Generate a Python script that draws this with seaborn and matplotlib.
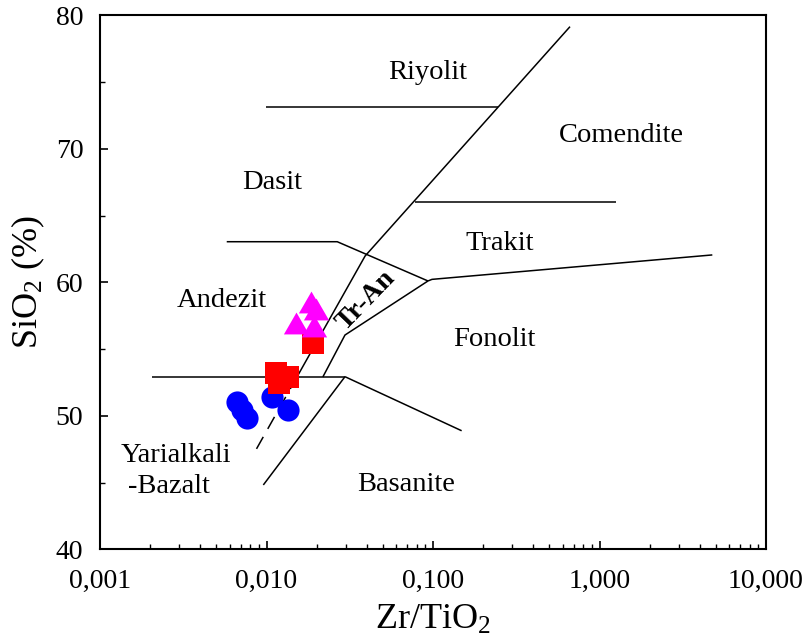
import numpy as np
import pandas as pd
import matplotlib
matplotlib.use("Agg")
import matplotlib.pyplot as plt
import seaborn as sns

# ---- sample data: Zr/TiO2 vs SiO2 (%) ----
circle_x = [0.00669, 0.00713, 0.00759, 0.01079, 0.01346]
circle_y = [51.03, 50.43, 49.84, 51.41, 50.40]
square_x = [0.01895, 0.01141, 0.01346, 0.01189]
square_y = [55.43, 53.24, 52.94, 52.46]
triangle_x = [0.01851, 0.01996, 0.01504, 0.01929]
triangle_y = [58.49, 58.00, 56.95, 56.73]

# ---- field boundaries (Zr/TiO2, SiO2) ----
main_diag_x = [0.665, 0.0391, 0.01524]
main_diag_y = [79.15, 61.97, 52.91]
dashed_x = [0.01524, 0.0083]
dashed_y = [52.91, 47.06]
riyolit_x = [0.00993, 0.2466]
riyolit_y = [73.11, 73.11]
comendite_x = [0.078, 1.256]
comendite_y = [66.04, 66.04]
dasit_x = [0.00577, 0.0266, 0.0933]
dasit_y = [63.04, 63.04, 60.10]
trakit_x = [0.0933, 0.0986, 4.76]
trakit_y = [60.10, 60.22, 62.05]
tran_x = [0.0933, 0.0296, 0.0218]
tran_y = [60.10, 56.05, 52.91]
andezit_x = [0.002043, 0.0296]
andezit_y = [52.93, 52.93]
basanite_r_x = [0.0296, 0.1486]
basanite_r_y = [52.93, 48.88]
basanite_l_x = [0.0296, 0.00957]
basanite_l_y = [52.93, 44.82]

# ---- field names ----
field_names = ["Riyolit", "Comendite", "Dasit", "Trakit", "Andezit",
               "Fonolit", "Yarialkali", "-Bazalt", "Basanite"]
field_x = [0.0933, 1.35, 0.01079, 0.252, 0.0054, 0.232, 0.00286, 0.00259, 0.0693]
field_y = [75.75, 70.96, 67.44, 62.94, 58.6, 55.75, 47.06, 44.74, 44.82]

xtick_vals = [0.001, 0.01, 0.1, 1, 10]
xtick_labels = ["0,001", "0,010", "0,100", "1,000", "10,000"]
ytick_vals = [40, 50, 60, 70, 80]

sns.set_theme(style="ticks")
plt.rcParams["font.family"] = ["Liberation Serif", "DejaVu Serif"]
plt.rcParams["mathtext.fontset"] = "custom"
plt.rcParams["mathtext.rm"] = "Liberation Serif"
plt.rcParams["mathtext.it"] = "Liberation Serif:italic"
plt.rcParams["text.color"] = "black"
plt.rcParams["axes.labelcolor"] = "black"
plt.rcParams["xtick.color"] = "black"
plt.rcParams["ytick.color"] = "black"

fig = plt.figure(figsize=(8.04, 6.42), dpi=100)
ax = fig.add_axes([0.12438, 0.14439, 0.82836, 0.83178])

lw = 1.1
boundaries = [(main_diag_x, main_diag_y), (riyolit_x, riyolit_y),
              (comendite_x, comendite_y), (dasit_x, dasit_y),
              (trakit_x, trakit_y), (tran_x, tran_y),
              (andezit_x, andezit_y), (basanite_r_x, basanite_r_y),
              (basanite_l_x, basanite_l_y)]
for bx, by in boundaries:
    ax.plot(bx, by, color="black", lw=lw, solid_capstyle="butt", zorder=2)
ax.plot(dashed_x, dashed_y, color="black", lw=lw, dashes=(9, 6), zorder=2)

# equilateral triangle marker
tri = [(0, 0.866), (-1, -0.866), (1, -0.866)]

groups = [
    (circle_x, circle_y, "o", "#0000FF", 255),
    (square_x, square_y, "s", "#FF0000", 235),
    (triangle_x, triangle_y, tri, "#FF00FF", 330),
]
for gx, gy, mk, col, sz in groups:
    df = pd.DataFrame({"zr_ti": gx, "sio2": gy})
    sns.scatterplot(data=df, x="zr_ti", y="sio2", marker=mk, color=col,
                    s=sz, linewidth=0, ax=ax, zorder=3, legend=False)

ax.set_xscale("log")
ax.set_xlim(0.001, 10)
ax.set_ylim(40, 80)
ax.set_xticks(xtick_vals)
ax.set_xticklabels(xtick_labels)
ax.set_yticks(ytick_vals)
ax.set_yticks([45, 55, 65, 75], minor=True)
ax.tick_params(axis="both", which="major", direction="in", length=6,
               width=1.2, labelsize=20, colors="black")
ax.tick_params(axis="both", which="minor", direction="in", length=3.5,
               width=1.0, colors="black")
ax.tick_params(axis="x", which="major", pad=14)
ax.tick_params(axis="y", which="major", pad=12)
ax.tick_params(top=False, right=False, which="both")

for sp in ax.spines.values():
    sp.set_visible(True)
    sp.set_linewidth(1.5)
    sp.set_color("black")

ax.set_xlabel("Zr/TiO$_2$", fontsize=26, labelpad=7)
ax.set_ylabel("SiO$_2$ (%)", fontsize=26, labelpad=6)

for name, tx, ty in zip(field_names, field_x, field_y):
    ax.text(tx, ty, name, fontsize=20.5, ha="center", va="center", zorder=4)
ax.text(0.0399, 58.67, "Tr-An", fontsize=20, fontweight="bold",
        rotation=46, ha="center", va="center", zorder=4)

fig.savefig("out.png", dpi=100)
